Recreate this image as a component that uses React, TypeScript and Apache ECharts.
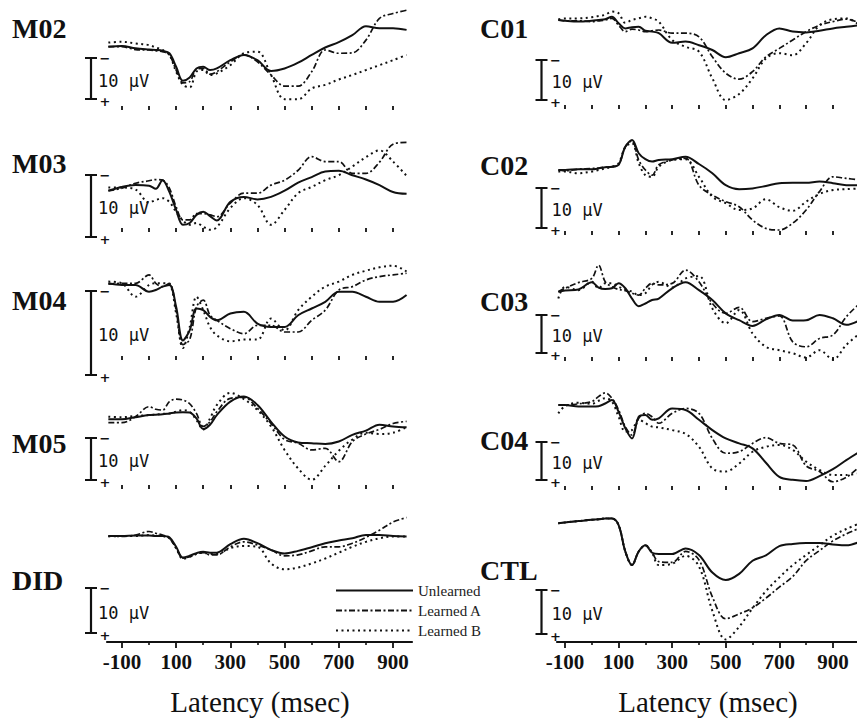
import React, { useEffect, useRef } from "react";
import * as echarts from "echarts";

// ---------- data ----------
const LAT_L = [-150, -100, -50, 0, 25, 50, 75, 100, 125, 150, 175, 200, 225, 250, 300, 350, 400, 450, 500, 550, 600, 650, 700, 750, 800, 850, 900, 950];
const LAT_R = [-125, -100, -50, 0, 25, 50, 75, 100, 125, 150, 175, 200, 225, 250, 300, 350, 400, 450, 500, 550, 600, 650, 700, 750, 800, 850, 900, 950, 1000];
const TICKS = [-100, 0, 100, 200, 300, 400, 500, 600, 700, 800, 900];
const TICK_LABELS = [-100, 100, 300, 500, 700, 900];
const MINOR_TICKS = [0, 200, 400, 600, 800];
const SERIES_NAMES = ["Unlearned", "Learned A", "Learned B"];
const X_TITLE = "Latency (msec)";
const SCALE_TEXT = "10 µV";

// values in µV (negative up)
const M02_U = [0, -0.2, 0.4, 0.7, 0.8, 1.0, 1.6, 4.9, 8.3, 7.5, 5.3, 4.9, 5.7, 5.3, 3.3, 2.0, 3.3, 5.9, 5.3, 3.9, 2.0, 0.2, -1.1, -2.8, -5.0, -4.5, -4.5, -4.1];
const M02_A = [0, 0, 0.7, 0.8, 1.0, 1.2, 2.0, 5.7, 8.8, 8.5, 5.5, 5.3, 6.7, 6.1, 3.7, 2.0, 3.7, 6.9, 9.6, 9.6, 6.1, 0.8, 1.6, 1.5, -1.6, -6.9, -8.1, -8.9];
const M02_B = [-1.0, -1.2, -0.8, -0.4, 0.2, 0.8, 2.0, 6.1, 9.3, 9.9, 6.1, 5.7, 6.9, 6.5, 4.5, 1.6, 1.2, 6.9, 12.8, 12.8, 10.2, 9.3, 8.0, 6.9, 5.7, 4.5, 3.3, 2.0];

const M03_U = [0, -0.6, -0.9, -0.8, -0.3, -1.7, 0.2, 3.1, 5.5, 5.2, 3.9, 3.4, 4.1, 4.8, 1.8, 1.0, 1.4, 1.0, 0, -1.3, -2.2, -3.1, -3.2, -2.5, -1.8, -0.9, 0.2, 0.5];
const M03_A = [0, -0.4, -1.2, -1.6, -1.8, -1.7, -0.4, 2.6, 4.7, 4.7, 3.7, 3.7, 3.9, 4.2, 2.0, 0.4, 0.4, -0.9, -1.7, -3.3, -5.5, -4.7, -4.7, -2.8, -2.8, -4.6, -7.5, -7.8];
const M03_B = [-0.5, -0.5, -0.2, 1.9, 1.5, 1.2, 1.8, 3.4, 4.8, 5.5, 5.2, 5.8, 6.3, 5.9, 2.8, 1.2, 2.3, 5.5, 3.1, 0.4, -0.6, -1.7, -2.5, -3.9, -5.4, -6.5, -4.7, -2.4];

const M04_U = [0, 0.2, 0.2, 1.0, 0.8, 0.4, 0.2, 2.8, 6.8, 5.6, 3.0, 3.2, 4.0, 4.4, 3.6, 3.4, 4.8, 5.2, 5.2, 3.8, 3.0, 2.2, 1.0, 1.0, 1.6, 2.2, 2.2, 1.4];
const M04_A = [0.1, 0, 0, -1.0, 0, 0.4, 0, 3.2, 7.3, 6.7, 2.8, 2.0, 3.8, 4.4, 5.4, 6.0, 5.0, 5.0, 5.8, 5.8, 4.4, 3.2, 0.8, 0.4, -0.4, -0.8, -1.0, -1.2];
const M04_B = [-0.2, 0, 1.6, 0.2, 0, 0, 0.1, 3.6, 7.7, 5.2, 1.6, 3.2, 5.2, 6.2, 6.9, 6.7, 6.7, 4.2, 5.6, 3.2, 1.6, 0.4, -0.2, -1.0, -1.5, -1.9, -2.1, -1.4];

const M05_U = [0, 0, -0.5, -1.0, -1.1, -1.2, -1.4, -1.6, -1.7, -1.6, -0.2, 2.3, 1.3, -1.0, -4.2, -5.4, -3.4, 0.6, 4.1, 5.5, 5.7, 5.9, 5.3, 3.7, 2.7, 1.3, 1.7, 1.9];
const M05_A = [0.8, 0.8, -0.6, -3.0, -2.4, -2.2, -4.2, -4.8, -4.6, -3.7, -1.4, 1.7, 0.6, -1.8, -5.0, -5.2, -2.6, 1.0, 4.8, 5.7, 7.3, 6.9, 10.1, 5.3, 3.5, 2.4, 1.0, 0.5];
const M05_B = [-0.6, -0.5, -0.8, -1.0, -1.1, -1.3, -1.4, -1.8, -2.2, -1.8, 0.2, 2.4, -0.2, -3.4, -6.3, -4.8, -2.2, 1.7, 7.3, 11.7, 14.4, 11.1, 7.5, 4.8, 3.2, 3.5, 3.2, 1.9];

const DID_U = [0, 0, -0.1, -0.1, 0, 0, 0.3, 2.4, 4.8, 4.4, 3.8, 3.5, 3.7, 3.7, 1.8, 0.6, 1.6, 3.1, 3.9, 3.3, 2.5, 1.6, 1.0, 0.5, -0.2, -0.2, 0, 0.1];
const DID_A = [0, 0.1, -0.2, -1.0, -0.6, -0.2, 0.5, 2.7, 4.9, 4.6, 4.0, 3.7, 4.2, 4.2, 2.4, 1.3, 2.0, 3.1, 4.4, 4.2, 3.3, 2.4, 2.4, 1.6, 0.3, -1.3, -3.1, -4.1];
const DID_B = [0.1, 0, 0, -0.2, -0.1, 0, 0.5, 2.7, 5.1, 4.6, 4.0, 3.7, 4.0, 4.0, 2.7, 2.2, 2.4, 6.1, 7.4, 7.0, 6.1, 5.0, 3.7, 2.4, 1.3, 0.5, 0.1, 0.1];

const C01_U = [0, 0.2, 0.4, 0.2, 0, -0.2, -0.8, 0.8, 2.1, 1.8, 1.7, 2.7, 2.9, 3.3, 5.7, 5.4, 6.3, 7.5, 9.3, 8.3, 7.1, 3.8, 2.1, 2.9, 3.1, 2.7, 2.1, 1.7, 1.3];
const C01_A = [0, 0.2, 0.2, 0.4, 0.2, 0, -0.4, 1.3, 2.9, 2.3, 2.5, 2.9, 2.7, 2.5, 3.3, 3.3, 4.2, 9.2, 13.3, 14.8, 12.9, 9.2, 7.1, 5.0, 2.9, 1.3, 0.4, -0.2, 0.8];
const C01_B = [-0.2, -0.4, -0.4, -0.7, -1.0, -1.3, -2.1, -1.7, 0.7, 0, -0.4, -0.8, -0.4, 0.4, 5.0, 6.7, 7.9, 14.6, 20.0, 18.5, 14.6, 9.6, 8.3, 8.8, 5.8, 1.3, -0.2, -0.4, 1.3];

const C02_U = [0, 0, -0.2, -0.2, -0.4, -0.7, -0.8, -1.3, -5.8, -7.5, -4.2, -2.7, -2.1, -2.5, -2.7, -3.3, -1.5, 0.8, 3.8, 4.8, 4.6, 4.0, 3.3, 3.2, 3.2, 2.9, 3.3, 3.8, 3.8];
const C02_A = [0, 0.2, -0.2, -0.4, -0.5, -0.7, -0.8, -1.3, -5.8, -7.3, -2.5, 0, 1.3, -1.3, -2.5, -2.9, 3.8, 6.3, 7.9, 9.2, 12.5, 14.6, 15.0, 13.3, 10.0, 5.4, 1.7, 2.1, 2.5];
const C02_B = [0.4, 0.4, 0.8, 0.4, 0, -0.4, -0.8, -1.7, -5.8, -6.7, -1.7, 1.3, 1.7, -0.8, -2.5, -2.7, 1.7, 6.7, 8.3, 10.0, 9.6, 7.3, 9.3, 10.2, 7.9, 6.0, 5.0, 4.8, 4.6];

const C03_U = [0, -0.3, -0.6, -2.5, -1.1, -0.7, -0.9, -2.2, -0.9, 1.8, 3.8, 3.1, 2.2, 1.8, -0.9, -2.5, -0.4, 2.2, 5.7, 7.5, 9.0, 7.3, 6.1, 7.6, 7.5, 6.1, 7.0, 8.7, 7.5];
const C03_A = [0, -0.9, -2.4, -3.5, -7.0, -2.6, -1.3, -0.6, -0.3, 0.4, 0.9, -0.9, -2.2, -1.8, -2.2, -5.7, -2.6, 3.1, 5.7, 4.1, 7.9, 7.0, 6.4, 13.2, 14.5, 12.3, 11.4, 6.6, 3.1];
const C03_B = [1.8, -1.3, -0.4, -2.6, -0.9, -2.2, -2.2, -1.3, -0.6, 0, 0.9, 0.4, -1.8, -2.6, -1.1, -3.5, -4.1, 4.4, 8.3, 4.8, 11.0, 14.5, 15.4, 16.2, 17.3, 15.4, 17.8, 14.0, 11.0];

const C04_U = [0, 0, 0.4, 0.4, 0.3, -0.4, -1.3, 1.8, 6.1, 8.8, 3.1, 2.6, 3.9, 3.5, 0.9, 1.3, 3.9, 6.6, 8.8, 10.1, 11.4, 15.2, 18.9, 19.7, 20.0, 18.7, 16.9, 14.5, 12.3];
const C04_A = [0, 0, -0.3, -0.9, -2.2, -3.2, -1.8, 1.3, 5.7, 7.9, 3.5, 2.2, 3.1, 4.8, 2.2, 0.9, 2.2, 8.8, 12.7, 12.3, 10.1, 8.6, 10.1, 10.5, 16.0, 17.5, 20.2, 19.0, 16.2];
const C04_B = [2.2, 0.3, -0.6, -0.3, -1.1, -1.8, -0.9, 3.1, 7.0, 6.6, 3.8, 4.8, 5.7, 5.9, 6.6, 7.6, 11.0, 16.7, 17.5, 15.4, 12.3, 11.0, 10.5, 11.8, 14.9, 17.1, 18.4, 18.4, 18.0];

const CTL_U = [0, -0.2, -0.5, -0.8, -0.9, -1.1, -1.1, 0.4, 6.4, 9.5, 6.4, 5.0, 6.7, 7.0, 7.0, 5.7, 7.2, 11.2, 12.9, 11.5, 8.5, 7.3, 5.2, 4.7, 4.5, 4.5, 4.8, 5.0, 4.2];
const CTL_A = [0, -0.2, -0.5, -0.8, -0.9, -1.1, -1.1, 0.4, 6.4, 9.5, 6.4, 5.0, 6.7, 8.7, 8.9, 6.4, 8.3, 16.7, 21.7, 20.6, 19.2, 17.0, 14.5, 12.1, 8.5, 6.2, 4.0, 2.4, 1.1];
const CTL_B = [0, -0.2, -0.5, -0.8, -0.9, -1.1, -1.1, 0.4, 6.4, 9.5, 6.4, 5.0, 6.7, 9.5, 9.2, 7.4, 9.8, 19.9, 26.4, 23.5, 19.3, 15.4, 12.3, 9.5, 7.2, 5.0, 2.8, 1.3, 0];

const PANELS = [
  { name: "M02", col: 0, u: M02_U, a: M02_A, b: M02_B },
  { name: "M03", col: 0, u: M03_U, a: M03_A, b: M03_B },
  { name: "M04", col: 0, u: M04_U, a: M04_A, b: M04_B },
  { name: "M05", col: 0, u: M05_U, a: M05_A, b: M05_B },
  { name: "DID", col: 0, u: DID_U, a: DID_A, b: DID_B },
  { name: "C01", col: 1, u: C01_U, a: C01_A, b: C01_B },
  { name: "C02", col: 1, u: C02_U, a: C02_A, b: C02_B },
  { name: "C03", col: 1, u: C03_U, a: C03_A, b: C03_B },
  { name: "C04", col: 1, u: C04_U, a: C04_A, b: C04_B },
  { name: "CTL", col: 1, u: CTL_U, a: CTL_A, b: CTL_B },
];

// ---------- layout (pixels) ----------
const COLS = [
  { gridLeft: 107, gridWidth: 305, xMin: -155, xMax: 970, barX: 91, textDx: 7, labelX: 12, titleX: 260 },
  { gridLeft: 557, gridWidth: 300, xMin: -130, xMax: 990, barX: 541.5, textDx: 10, labelX: 480, titleX: 708 },
];
// y0: pixel of 0 µV, bar: pixels per 10 µV, barTop: scale bar top, axisY: tick row
const LAYOUT: Record<string, any> = {
  M02: { y0: 46.7, bar: 41, barTop: 58, axisY: 108, labelY: 28, bottom: false },
  M03: { y0: 190.7, bar: 62, barTop: 175, axisY: 230, labelY: 163, bottom: false },
  M04: { y0: 283.3, bar: 84, barTop: 291, axisY: 358, labelY: 300, bottom: false },
  M05: { y0: 419.3, bar: 42, barTop: 438, axisY: 487, labelY: 443, bottom: false },
  DID: { y0: 536, bar: 45, barTop: 588, axisY: 642, labelY: 580, bottom: true },
  C01: { y0: 20, bar: 40, barTop: 60, axisY: 107, labelY: 28, bottom: false },
  C02: { y0: 170, bar: 40, barTop: 188, axisY: 233, labelY: 165, bottom: false },
  C03: { y0: 291.7, bar: 38, barTop: 315, axisY: 359, labelY: 301, bottom: false },
  C04: { y0: 405, bar: 38, barTop: 442, axisY: 488, labelY: 440, bottom: false },
  CTL: { y0: 523.3, bar: 44, barTop: 590, axisY: 642, labelY: 570, bottom: true },
};

const INK = "#111111";
const STYLES = [
  { type: "solid", width: 2 },
  { type: [6, 2.5, 2, 2.5], width: 1.7 },
  { type: [2, 3.5], width: 2 },
];

export default function App() {
  const ref = useRef<HTMLDivElement>(null);
  useEffect(() => {
    const chart = echarts.init(ref.current!, null, { renderer: "svg" });
    const grid: any[] = [];
    const xAxis: any[] = [];
    const yAxis: any[] = [];
    const series: any[] = [];
    const graphic: any[] = [];

    PANELS.forEach((p, i) => {
      const c = COLS[p.col];
      const L = LAYOUT[p.name];
      const gBottom = L.bottom ? L.axisY : L.axisY - 2;
      const gTop = L.y0 - 70;
      grid.push({ left: c.gridLeft, top: gTop, width: c.gridWidth, height: gBottom - gTop, outerBoundsMode: "none", containLabel: false });
      xAxis.push({
        type: "value",
        gridIndex: i,
        min: c.xMin,
        max: c.xMax,
        position: "bottom",
        splitLine: { show: false },
        axisLine: { show: L.bottom, onZero: false, lineStyle: { color: INK, width: 2.2 } },
        axisTick: { show: true, customValues: L.bottom ? TICK_LABELS : TICKS, length: L.bottom ? 6 : 4, lineStyle: { color: INK, width: 1.8 } },
        axisLabel: {
          show: L.bottom,
          customValues: TICK_LABELS,
          color: INK,
          fontFamily: "Liberation Sans Narrow",
          fontWeight: "bold",
          fontSize: 21,
          margin: 9,
        },
      });
      yAxis.push({
        type: "value",
        gridIndex: i,
        inverse: true,
        show: false,
        min: ((gTop - L.y0) / L.bar) * 10,
        max: ((gBottom - L.y0) / L.bar) * 10,
      });
      const lat = p.col === 0 ? LAT_L : LAT_R;
      [p.u, p.a, p.b].forEach((vals, k) => {
        series.push({
          type: "line",
          name: SERIES_NAMES[k],
          xAxisIndex: i,
          yAxisIndex: i,
          data: lat.map((t, j) => [t, vals[j]]),
          symbol: "none",
          showSymbol: false,
          smooth: 0.35,
          clip: false,
          silent: true,
          lineStyle: { color: INK, width: STYLES[k].width, type: STYLES[k].type },
          itemStyle: { color: INK },
          z: 3 - k,
        });
      });

      // panel label
      graphic.push({
        type: "text",
        x: c.labelX,
        y: L.labelY,
        style: { text: p.name, fontFamily: "Liberation Serif", fontWeight: "bold", fontSize: 28, fill: INK, verticalAlign: "middle", textVerticalAlign: "middle" },
      });
      // scale bar
      const bx = c.barX;
      const bt = L.barTop;
      const bb = L.barTop + L.bar;
      graphic.push({ type: "line", shape: { x1: bx, y1: bt, x2: bx, y2: bb }, style: { stroke: INK, lineWidth: 2.2 } });
      graphic.push({ type: "line", shape: { x1: bx - 6, y1: bt, x2: bx + 6, y2: bt }, style: { stroke: INK, lineWidth: 2 } });
      graphic.push({ type: "line", shape: { x1: bx - 6, y1: bb, x2: bx + 6, y2: bb }, style: { stroke: INK, lineWidth: 2 } });
      graphic.push({
        type: "text", x: bx + 14, y: bt,
        style: { text: "−", fontFamily: "DejaVu Sans", fontWeight: "bold", fontSize: 13, fill: INK, align: "center", textAlign: "center", verticalAlign: "middle", textVerticalAlign: "middle" },
      });
      graphic.push({
        type: "text", x: bx + 14, y: bb + 2,
        style: { text: "+", fontFamily: "DejaVu Sans", fontWeight: "bold", fontSize: 13, fill: INK, align: "center", textAlign: "center", verticalAlign: "middle", textVerticalAlign: "middle" },
      });
      graphic.push({
        type: "text", x: bx + c.textDx, y: (bt + bb) / 2 + 2,
        style: { text: SCALE_TEXT, fontFamily: "DejaVu Sans Mono", fontSize: 17, fill: INK, verticalAlign: "middle", textVerticalAlign: "middle" },
      });
    });

    // short intermediate ticks on the two bottom axes
    PANELS.forEach((p, i) => {
      const L = LAYOUT[p.name];
      if (!L.bottom) return;
      const c = COLS[p.col];
      xAxis.push({
        type: "value",
        gridIndex: i,
        min: c.xMin,
        max: c.xMax,
        position: "bottom",
        splitLine: { show: false },
        axisLine: { show: false, onZero: false },
        axisTick: { show: true, customValues: MINOR_TICKS, length: 3, lineStyle: { color: INK, width: 1.6 } },
        axisLabel: { show: false },
      });
    });

    COLS.forEach((c) => {
      graphic.push({
        type: "text", x: c.titleX, y: 702,
        style: { text: X_TITLE, fontFamily: "Liberation Serif", fontSize: 29, fill: INK, align: "center", textAlign: "center", verticalAlign: "middle", textVerticalAlign: "middle" },
      });
    });

    chart.setOption({
      animation: false,
      backgroundColor: "#ffffff",
      grid,
      xAxis,
      yAxis,
      series,
      graphic,
      legend: {
        data: SERIES_NAMES,
        orient: "vertical",
        left: 330,
        top: 578,
        itemWidth: 77,
        itemHeight: 12,
        itemGap: 5,
        selectedMode: false,
        itemStyle: { opacity: 0 },
        textStyle: { fontFamily: "Liberation Serif", fontSize: 15, color: "#222" },
      },
    });
    return () => chart.dispose();
  }, []);
  return <div ref={ref} style={{ position: "absolute", left: 0, top: 0, width: 857, height: 719, background: "#fff" }} />;
}
